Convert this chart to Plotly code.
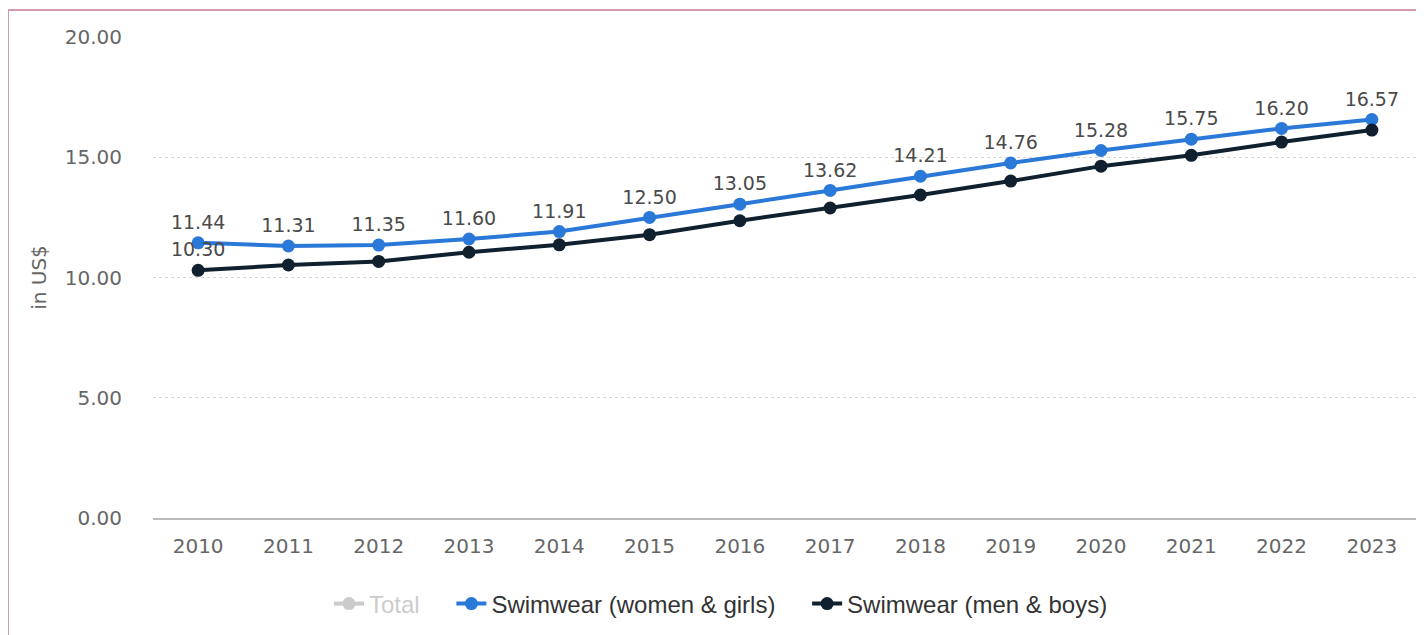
import plotly.graph_objects as go

years = ["2010", "2011", "2012", "2013", "2014", "2015", "2016",
         "2017", "2018", "2019", "2020", "2021", "2022", "2023"]
women_girls = [11.44, 11.31, 11.35, 11.60, 11.91, 12.50, 13.05,
               13.62, 14.21, 14.76, 15.28, 15.75, 16.20, 16.57]
men_boys = [10.30, 10.52, 10.67, 11.05, 11.36, 11.78, 12.36,
            12.89, 13.43, 14.01, 14.63, 15.08, 15.63, 16.13]
# "Total" is switched off in the reference, so its values are not shown
total_values = [None, None, None, None, None, None, None,
                None, None, None, None, None, None, None]
y_ticks = [0, 5, 10, 15, 20]
y_tick_labels = ["0.00", "5.00", "10.00", "15.00", "20.00"]

BLUE = "#2a78d8"
NAVY = "#10202f"
LABEL_FONT = dict(family="DejaVu Sans", size=19, color="#4a4a4a")
GAP = "&nbsp;" * 4

fig = go.Figure()

fig.add_trace(go.Scatter(
    x=years, y=total_values, name="<span style='color:#999'>Total</span>" + GAP,
    mode="lines+markers", visible="legendonly", legendrank=1,
    line=dict(color="#999999", width=4), marker=dict(size=13, color="#999999"),
))

fig.add_trace(go.Scatter(
    x=years, y=women_girls, name="Swimwear (women & girls)" + GAP,
    mode="lines+markers+text", legendrank=2,
    text=[f"{v:.2f}" for v in women_girls],
    textposition="top center", textfont=LABEL_FONT,
    line=dict(color=BLUE, width=4), marker=dict(size=13, color=BLUE),
    cliponaxis=False,
))

fig.add_trace(go.Scatter(
    x=years, y=men_boys, name="Swimwear (men & boys)",
    mode="lines+markers+text", legendrank=3,
    text=[f"{men_boys[0]:.2f}"] + [""] * (len(men_boys) - 1),
    textposition="top center", textfont=LABEL_FONT,
    line=dict(color=NAVY, width=4), marker=dict(size=13, color=NAVY),
    cliponaxis=False,
))

# page body has an 8px margin; figure pixel = screen pixel - 8
OFF = 8
W, H = 1424 - OFF, 635 - OFF
L, T = 153 - OFF, 37 - OFF
R = W - (1417 - OFF)
B = H - (518 - OFF)
pw, ph = W - L - R, H - T - B

def px_x(sx):
    return (sx - OFF - L) / pw

def px_y(sy):
    return (H - B - (sy - OFF)) / ph

fig.update_layout(
    width=W, height=H,
    margin=dict(l=L, r=R, t=T, b=B),
    paper_bgcolor="white", plot_bgcolor="white",
    showlegend=True,
    legend=dict(
        orientation="h", x=px_x(721), xanchor="center",
        y=px_y(604), yanchor="middle",
        font=dict(family="Liberation Sans", size=24, color="#333333"),
        traceorder="normal", itemwidth=30,
    ),
    xaxis=dict(
        type="category", range=[-0.5, len(years) - 0.5],
        showgrid=False, showline=True, linecolor="#bbbbbb", linewidth=1.5,
        ticks="outside", ticklen=9, tickcolor="rgba(0,0,0,0)",
        tickfont=dict(family="DejaVu Sans", size=20, color="#666666"),
        zeroline=False,
    ),
    yaxis=dict(
        range=[0, 20], tickvals=y_ticks, ticktext=y_tick_labels,
        showgrid=True, gridcolor="#d4d4d4", griddash="dot", gridwidth=1,
        zeroline=False, showline=False,
        ticks="outside", ticklen=26, tickcolor="rgba(0,0,0,0)",
        tickfont=dict(family="DejaVu Sans", size=20, color="#666666"),
        title=dict(text="in US$", font=dict(family="DejaVu Sans", size=20, color="#666666"), standoff=12),
    ),
    shapes=[dict(
        type="rect", xref="paper", yref="paper",
        x0=px_x(8), x1=px_x(1440),
        y0=px_y(660), y1=px_y(10),
        line=dict(color="#d39aae", width=2), fillcolor="rgba(0,0,0,0)",
        layer="below",
    )],
)

fig.write_html("out.html", config={"displayModeBar": False})
